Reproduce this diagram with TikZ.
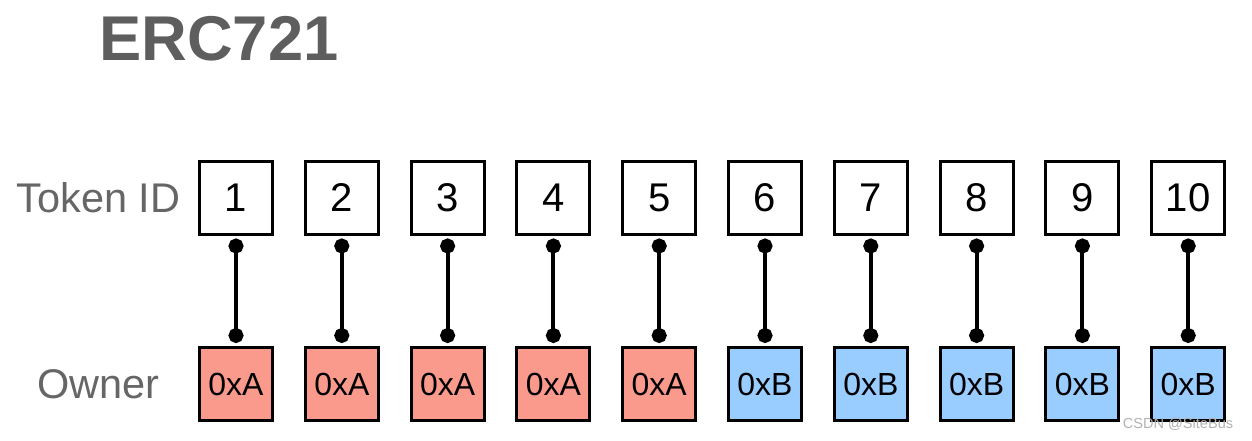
\documentclass[tikz,border=0pt]{standalone}
\usepackage{fontspec}
\setmainfont{Liberation Sans}
\usetikzlibrary{positioning,arrows.meta}

\definecolor{ownerred}{HTML}{FA9A8C}
\definecolor{ownerblue}{HTML}{99CCFF}
\definecolor{labelgray}{HTML}{666666}
\definecolor{titlegray}{HTML}{5E5E5E}

\begin{document}
\begin{tikzpicture}
		[idbox/.style={rectangle, draw=black, fill=white, line width=0.06cm, minimum size=1.46cm, inner sep=0pt, font=\fontsize{22.8}{26}\selectfont},
		ownerbox/.style={idbox, font=\fontsize{18.2}{22}\selectfont},
		redbox/.style={ownerbox, fill=ownerred},
		bluebox/.style={ownerbox, fill=ownerblue},
		rowlabel/.style={inner sep=0pt, text=labelgray, font=\fontsize{23.6}{28}\selectfont},
		titletext/.style={inner sep=0pt, text=titlegray, font=\fontsize{36}{40}\selectfont\bfseries},
		link/.style={line width=0.08cm, {Circle[length=0.3cm]}-{Circle[length=0.3cm]}, shorten <=0.05cm, shorten >=0.06cm},
		]
		\useasboundingbox (0,0) rectangle (25.04,8.8);
		
		%Nodes
		\node[titletext](title) at (4.38,8.03) {ERC721};
		\node[idbox](id1) at (4.72,4.84) {1};
		\foreach \i [remember=\i as \prev (initially 1)] in {2,...,10}
			\node[idbox](id\i)[right=0.596cm of id\prev] {\i};
		\foreach \i in {1,...,5}
			\node[redbox](own\i)[below=2.2cm of id\i] {0xA};
		\foreach \i in {6,...,10}
			\node[bluebox](own\i)[below=2.2cm of id\i] {0xB};
		\node[rowlabel](tokenlabel)[left=0.35cm of id1] {Token ID};
		\node[rowlabel](ownerlabel) at (tokenlabel |- own1) {Owner};
		\node[inner sep=0pt, text=black!30, font=\fontsize{8.3}{10}\selectfont](mark) at (23.56,0.32) {CSDN @SiteBus};
		%Lines
		\foreach \i in {1,...,10}
			\draw[link](id\i.south) -- (own\i.north);
	\end{tikzpicture}
\end{document}
